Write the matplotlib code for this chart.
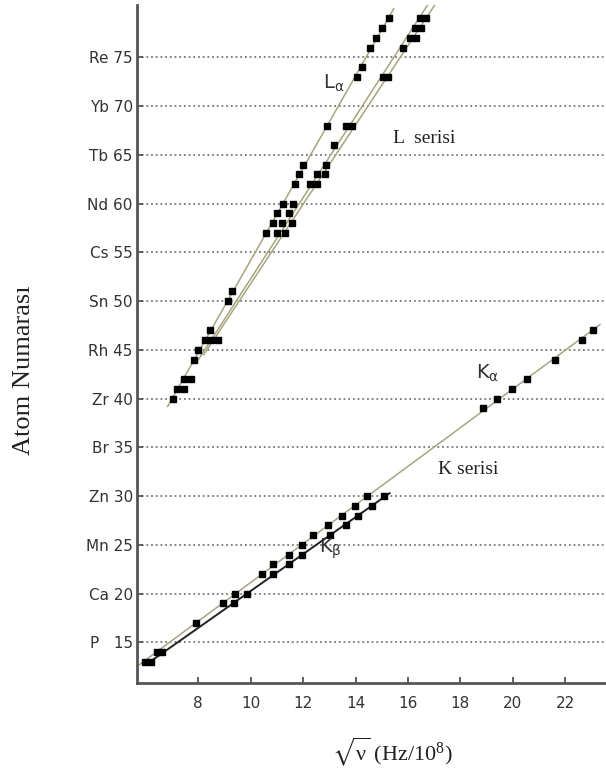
import numpy as np
import matplotlib.pyplot as plt

plt.rcParams['mathtext.default'] = 'regular'

# y ticks: element + atomic number
y_ticks = [15, 20, 25, 30, 35, 40, 45, 50, 55, 60, 65, 70, 75]
y_labels = ['P   15', 'Ca 20', 'Mn 25', 'Zn 30', 'Br 35', 'Zr 40', 'Rh 45',
            'Sn 50', 'Cs 55', 'Nd 60', 'Tb 65', 'Yb 70', 'Re 75']
x_ticks = [8, 10, 12, 14, 16, 18, 20, 22]

# K series (Z, sqrt(nu))
ka_z = [13, 14, 17, 19, 20, 22, 23, 24, 25, 26, 27, 28, 29, 30,
        39, 40, 41, 42, 44, 46, 47]
ka_x = [5.98, 6.42, 7.92, 8.94, 9.39, 10.42, 10.86, 11.47, 11.95, 12.39,
        12.96, 13.47, 13.98, 14.43, 18.85, 19.41, 19.96, 20.53, 21.61,
        22.63, 23.08]
kb_z = [13, 14, 19, 20, 22, 23, 24, 26, 27, 28, 29, 30]
kb_x = [6.2, 6.62, 9.35, 9.86, 10.86, 11.47, 11.95, 13.03, 13.64, 14.11,
        14.62, 15.07]

# L series
la_z = [40, 41, 42, 44, 45, 46, 47, 50, 51, 57, 58, 59, 60, 62, 63, 64,
        68, 73, 74, 76, 77, 78, 79]
la_x = [7.05, 7.2, 7.45, 7.84, 8.0, 8.25, 8.45, 9.15, 9.29, 10.58, 10.86,
        10.99, 11.24, 11.69, 11.85, 12.01, 12.92, 14.05, 14.24, 14.55,
        14.78, 15.0, 15.29]
lb_z = [41, 42, 46, 57, 58, 60, 62, 63, 66, 68, 73, 76, 77, 78, 79]
lb_x = [7.45, 7.72, 8.5, 11.02, 11.18, 11.63, 12.26, 12.52, 13.18, 13.65,
        15.05, 15.82, 16.08, 16.27, 16.48]
lg_z = [46, 57, 58, 59, 62, 63, 64, 68, 73, 77, 78, 79]
lg_x = [8.75, 11.31, 11.56, 11.47, 12.52, 12.84, 12.87, 13.85, 15.25,
        16.3, 16.5, 16.7]

line_c = '#a8a47e'

fig = plt.figure(figsize=(6.06, 7.76), dpi=100)
ax = fig.add_axes([137/606, 1 - 683/776, 469/606, 678/776])


def fit_line(z, x, z0, z1, **kw):
    a, b = np.polyfit(z, x, 1)
    zz = np.array([z0, z1])
    ax.plot(a*zz + b, zz, **kw)


fit_line(ka_z, ka_x, 12.6, 47.6, color=line_c, lw=1.1, zorder=2)
fit_line(kb_z, kb_x, 12.8, 30.3, color='#222222', lw=1.4, zorder=2)
fit_line(la_z, la_x, 39.2, 80.0, color=line_c, lw=1.1, zorder=2)
fit_line(lb_z, lb_x, 43.8, 80.4, color=line_c, lw=1.1, zorder=2)
fit_line(lg_z, lg_x, 44.5, 80.4, color=line_c, lw=1.1, zorder=2)

for z, x in [(ka_z, ka_x), (kb_z, kb_x), (la_z, la_x), (lb_z, lb_x), (lg_z, lg_x)]:
    ax.plot(x, z, 's', color='black', ms=4.6, zorder=3)

ax.set_xlim(5.66, 23.56)
ax.set_ylim(10.83, 80.38)
ax.set_xticks(x_ticks)
ax.set_yticks(y_ticks)
ax.set_yticklabels(y_labels)
ax.tick_params(direction='in', length=4, width=1.2, color='#444444',
               labelsize=11, labelcolor='#333333')
ax.tick_params(axis='x', pad=9)
ax.tick_params(axis='y', pad=3)
ax.yaxis.grid(True, linestyle=(0, (1, 1.6)), color='#777777', lw=1.3)
ax.set_axisbelow(True)
for s in ['top', 'right']:
    ax.spines[s].set_visible(False)
for s in ['left', 'bottom']:
    ax.spines[s].set_linewidth(2)
    ax.spines[s].set_color('#555555')

# labels
serif = 'Liberation Serif'
fig.text(24/606, 1 - 370/776, 'Atom Numarası', rotation=90, family=serif,
         fontsize=19, ha='center', va='center', color='#222222')
fig.text(392/606, 1 - 752/776, r'$\sqrt{\nu}$ (Hz/10$^8$)', family=serif,
         math_fontfamily='stix', fontsize=16, ha='center', va='center',
         color='#222222')

ax.text(12.75, 71.8, r'L$_\alpha$', fontsize=14, color='#333333')
ax.text(15.43, 66.7, 'L  serisi', family=serif, fontsize=14,
        va='center', color='#222222')
ax.text(18.6, 42.0, r'K$_\alpha$', fontsize=14, color='#333333')
ax.text(17.15, 32.7, 'K serisi', family=serif, fontsize=14,
        va='center', color='#222222')
ax.text(12.6, 24.2, r'K$_\beta$', fontsize=14, color='#333333')

plt.savefig('out.png', dpi=100)
